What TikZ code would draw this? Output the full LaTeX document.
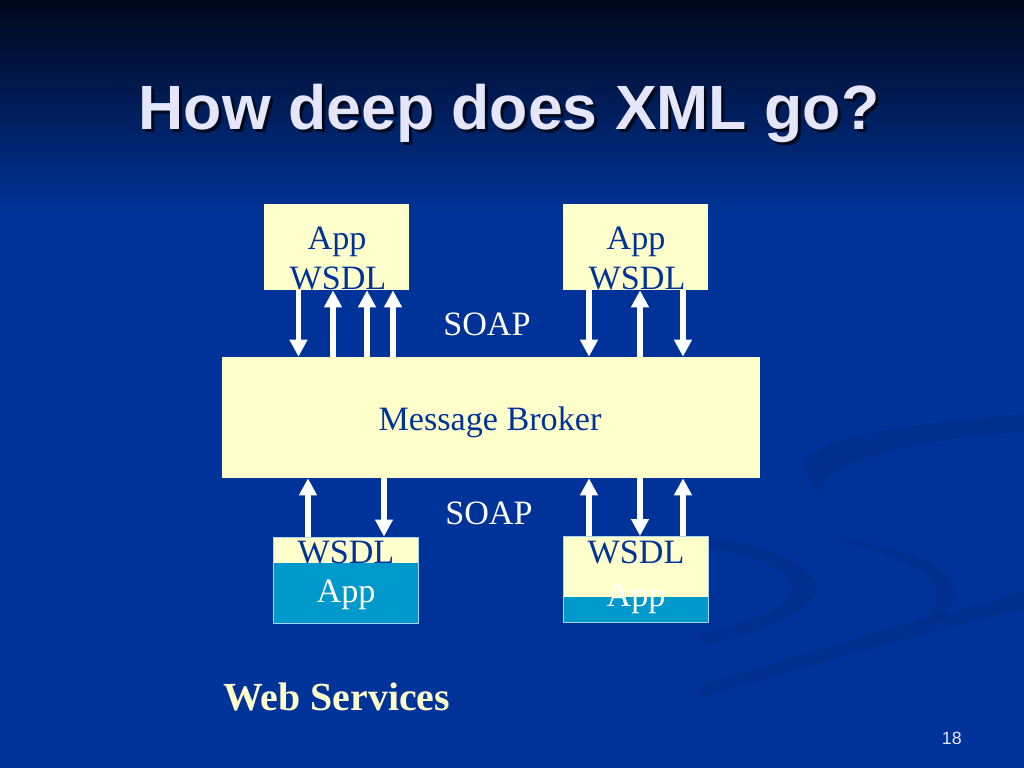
\documentclass[tikz,border=0pt]{standalone}
\usepackage{fontspec}
\setmainfont{Liberation Serif}
\newfontfamily\slidesans{Liberation Sans}
\usepackage{xcolor}
\usetikzlibrary{arrows.meta,positioning}

\definecolor{slideblue}{HTML}{003399}
\definecolor{slidetop}{HTML}{00071A}
\definecolor{swirlblue}{HTML}{00287E}
\definecolor{boxyellow}{HTML}{FFFFCC}
\definecolor{appteal}{HTML}{0099CC}
\definecolor{textblue}{HTML}{003399}
\definecolor{titlewhite}{HTML}{E6E6FA}
\definecolor{rimblue}{HTML}{A8D4F0}

\begin{document}
\begin{tikzpicture}[
  x=0.703125pt, y=-0.703125pt,
  line join=round,
  pipe/.style={draw=white, line width=4.2pt, -{Triangle[length=12pt,width=12pt]}},
  ybox/.style={fill=boxyellow, inner sep=0pt, minimum width=101.95pt, minimum height=60.47pt},
  boxtext/.style={inner sep=0pt, anchor=base, text=textblue, font=\fontsize{24}{28}\selectfont},
  whitetext/.style={boxtext, text=white},
  swirl/.style={fill=swirlblue, opacity=0.3},
  every node/.style={font=\fontsize{24}{28}\selectfont}
]
  \useasboundingbox (0,0) rectangle (1024,768);

  % slide background
  \fill[slideblue] (0,0) rectangle (1024,768);
  \shade[top color=slidetop, bottom color=slideblue] (0,0) rectangle (1024,215);

  % faint swirls at the right
  \fill[swirl] (1024,414) .. controls (880,424) and (792,446) .. (804,470)
    .. controls (808,484) and (817,492) .. (823,496)
    .. controls (815,470) and (880,442) .. (1024,432) -- cycle;
  \fill[swirl] (700,536) .. controls (790,546) and (832,578) .. (812,600)
    .. controls (796,620) and (742,638) .. (700,645) -- (700,633)
    .. controls (758,622) and (800,602) .. (790,582)
    .. controls (780,562) and (740,552) .. (700,548) -- cycle;
  \fill[swirl] (826,536) .. controls (900,544) and (968,570) .. (956,600)
    .. controls (949,615) and (932,622) .. (916,626)
    .. controls (936,610) and (946,590) .. (925,576)
    .. controls (900,556) and (862,546) .. (826,536) -- cycle;
  \fill[swirl] (1024,592) -- (1024,608) .. controls (900,640) and (800,668) .. (700,698)
    -- (700,686) .. controls (800,656) and (900,624) .. (1024,592) -- cycle;

  % title
  \node[anchor=base, inner sep=0pt, text=black, opacity=0.7,
        font=\slidesans\bfseries\fontsize{44}{50}\selectfont] (titleshade) at (512,133) {How deep does XML go?};
  \node[anchor=base, inner sep=0pt, text=titlewhite,
        font=\slidesans\bfseries\fontsize{44}{50}\selectfont] (title) at (509,130) {How deep does XML go?};

  % boxes
  \node[ybox] (appTL) at (336.5,247) {};
  \node[ybox] (appTR) at (635.5,247) {};
  \node[ybox, minimum width=378.3pt, minimum height=85.1pt] (broker) at (491,417.5) {};
  \node[ybox, draw=rimblue, line width=0.6pt,
        path picture={\fill[appteal] (path picture bounding box.south west)
          rectangle ([yshift=42.2pt]path picture bounding box.south east);}] (wsdlBL) at (345.5,580) {};
  \node[ybox, draw=rimblue, line width=0.6pt,
        path picture={\fill[appteal] (path picture bounding box.south west)
          rectangle ([yshift=17.6pt]path picture bounding box.south east);}] (wsdlBR) at (635.5,579.5) {};

  % box labels
  \node[boxtext] (appTLname) at (337,250) {App};
  \node[boxtext] (appTLwsdl) at (338,290) {WSDL};
  \node[boxtext] (appTRname) at (636,250) {App};
  \node[boxtext] (appTRwsdl) at (637,290) {WSDL};
  \node[boxtext] (brokername) at (490,430) {Message Broker};
  \node[boxtext] (wsdlBLwsdl) at (346,563) {WSDL};
  \node[whitetext] (wsdlBLname) at (346,602) {App};
  \node[boxtext] (wsdlBRwsdl) at (636,563) {WSDL};
  \node[whitetext] (wsdlBRname) at (636,606) {App};
  \node[whitetext] (soapTop) at (487,335) {SOAP};
  \node[whitetext] (soapBottom) at (489,524) {SOAP};

  % message arrows, top
  \foreach \x in {298.5} {
    \coordinate (t) at (\x,0);
    \draw[pipe] (appTL.south -| t) -- (broker.north -| t);
  }
  \foreach \x in {333,367,393} {
    \coordinate (t) at (\x,0);
    \draw[pipe] (broker.north -| t) -- (appTL.south -| t);
  }
  \foreach \x in {589,683} {
    \coordinate (t) at (\x,0);
    \draw[pipe] (appTR.south -| t) -- (broker.north -| t);
  }
  \foreach \x in {640} {
    \coordinate (t) at (\x,0);
    \draw[pipe] (broker.north -| t) -- (appTR.south -| t);
  }

  % message arrows, bottom
  \foreach \x in {308} {
    \coordinate (t) at (\x,0);
    \draw[pipe] (wsdlBL.north -| t) -- (broker.south -| t);
  }
  \foreach \x in {384} {
    \coordinate (t) at (\x,0);
    \draw[pipe] (broker.south -| t) -- (wsdlBL.north -| t);
  }
  \foreach \x in {589,683} {
    \coordinate (t) at (\x,0);
    \draw[pipe] (wsdlBR.north -| t) -- (broker.south -| t);
  }
  \foreach \x in {640} {
    \coordinate (t) at (\x,0);
    \draw[pipe] (broker.south -| t) -- (wsdlBR.north -| t);
  }

  % caption and page number
  \node[anchor=base west, inner sep=0pt, text=boxyellow,
        font=\bfseries\fontsize{28}{32}\selectfont] (caption) at (223,710) {Web Services};
  \node[anchor=base east, inner sep=0pt, text=titlewhite,
        font=\slidesans\fontsize{12.5}{14}\selectfont] (pagenum) at (962,744) {18};
\end{tikzpicture}
\end{document}
